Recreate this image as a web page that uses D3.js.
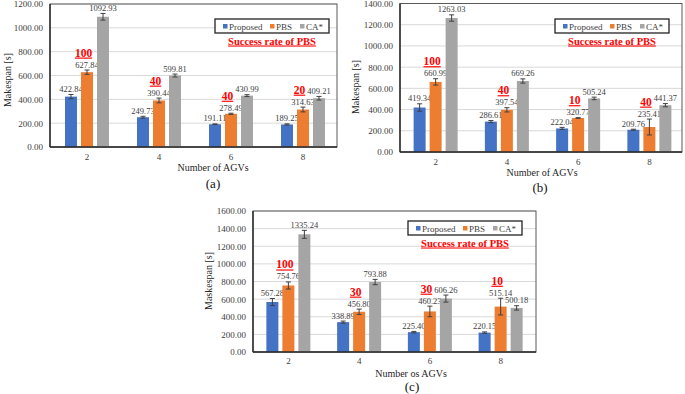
<!DOCTYPE html>
<html><head><meta charset="utf-8">
<script src="https://cdn.jsdelivr.net/npm/d3@7"></script>
<style>html,body{margin:0;padding:0;background:#fff;} svg, svg text{font-family:"Liberation Serif",serif !important;}</style>
</head><body><svg id="chart" width="685" height="394" font-family="Liberation Serif, serif"></svg>
<script>
const categories = ["2", "4", "6", "8"];
const seriesNames = ["Proposed", "PBS", "CA*"];
const seriesColors = ["#4472C4", "#ED7D31", "#A5A5A5"];

// Panel (a)
const aProposed = [422.84, 249.73, 191.11, 189.25];
const aPBS = [627.84, 390.44, 278.49, 314.63];
const aCA = [1092.93, 599.81, 430.99, 409.21];
const aProposedErr = [18, 8, 3, 5];
const aPBSErr = [18, 20, 5, 20];
const aCAErr = [28, 12, 8, 15];
const aSuccess = [100, 40, 40, 20];

// Panel (b)
const bProposed = [419.34, 286.61, 222.04, 209.76];
const bPBS = [660.99, 397.54, 320.77, 235.41];
const bCA = [1263.03, 669.26, 505.24, 441.37];
const bProposedErr = [35, 10, 10, 5];
const bPBSErr = [30, 20, 3, 75];
const bCAErr = [30, 20, 12, 15];
const bSuccess = [100, 40, 10, 40];

// Panel (c)
const cProposed = [567.28, 338.89, 225.40, 220.15];
const cPBS = [754.76, 456.80, 460.23, 515.14];
const cCA = [1335.24, 793.88, 606.26, 500.18];
const cProposedErr = [40, 12, 8, 8];
const cPBSErr = [40, 30, 60, 95];
const cCAErr = [45, 30, 40, 25];
const cSuccess = [100, 30, 30, 10];

const svg = d3.select("#chart");
const fmt = d3.format(".2f");
const SERIF = "Liberation Serif, serif";

function drawPanel(p) {
  const g = svg.append("g").attr("font-family", SERIF);
  const y = d3.scaleLinear().domain([0, p.yMax]).range([p.bottom, p.top]);
  const x0 = d3.scaleBand().domain(categories).range([p.bandL, p.bandR]);
  const x1 = d3.scaleBand().domain(seriesNames).range([-24, 24]).paddingInner(0.25).paddingOuter(0.125);
  const ticks = d3.range(0, p.yMax + 1, 200);

  g.selectAll(".grid").data(ticks.filter(t => t > 0)).join("line")
    .attr("x1", p.left).attr("x2", p.right)
    .attr("y1", d => y(d)).attr("y2", d => y(d))
    .attr("stroke", "#d9d9d9").attr("stroke-width", 1);

  g.append("rect").attr("x", p.left).attr("y", p.top).attr("width", p.right - p.left).attr("height", p.bottom - p.top)
    .attr("fill", "none").attr("stroke", "#595959").attr("stroke-width", 1);

  const series = [p.proposed, p.pbs, p.ca];
  const errs = [p.proposedErr, p.pbsErr, p.caErr];
  const cx = (ci, si) => x0(categories[ci]) + x0.bandwidth() / 2 + x1(seriesNames[si]) + x1.bandwidth() / 2;

  series.forEach((vals, si) => {
    const rows = vals.map((v, ci) => ({ v, e: errs[si][ci], ci }));
    g.selectAll(".bar" + si).data(rows).join("rect")
      .attr("x", d => cx(d.ci, si) - x1.bandwidth() / 2)
      .attr("width", x1.bandwidth())
      .attr("y", d => y(d.v))
      .attr("height", d => y(0) - y(d.v))
      .attr("fill", seriesColors[si]);
    const eg = g.selectAll(".err" + si).data(rows).join("g").attr("stroke", "#404040").attr("stroke-width", 1);
    eg.append("line").attr("x1", d => cx(d.ci, si)).attr("x2", d => cx(d.ci, si))
      .attr("y1", d => y(d.v - d.e)).attr("y2", d => y(d.v + d.e));
    eg.append("line").attr("x1", d => cx(d.ci, si) - 2.5).attr("x2", d => cx(d.ci, si) + 2.5)
      .attr("y1", d => y(d.v + d.e)).attr("y2", d => y(d.v + d.e));
    eg.append("line").attr("x1", d => cx(d.ci, si) - 2.5).attr("x2", d => cx(d.ci, si) + 2.5)
      .attr("y1", d => y(d.v - d.e)).attr("y2", d => y(d.v - d.e));
    g.selectAll(".lab" + si).data(rows).join("text")
      .attr("x", d => cx(d.ci, si)).attr("y", d => y(d.v + d.e) - 2.5)
      .attr("text-anchor", "middle").attr("font-size", 8.5).attr("fill", "#404040")
      .text(d => fmt(d.v));
  });

  g.selectAll(".succ").data(p.success).join("text")
    .attr("x", (d, ci) => cx(ci, 1) - 3.5)
    .attr("y", (d, ci) => y(p.pbs[ci] + p.pbsErr[ci]) - 13.5)
    .attr("text-anchor", "middle").attr("font-size", 11.5).attr("font-weight", "bold")
    .attr("fill", "#FF0000").attr("text-decoration", "underline")
    .text(d => d);

  const ya = g.append("g").attr("transform", `translate(${p.left},0)`)
    .call(d3.axisLeft(y).tickValues(ticks).tickFormat(fmt).tickSize(0).tickPadding(p.left - p.tickRight));
  ya.attr("font-family", SERIF);
  ya.select(".domain").remove();
  ya.selectAll("text").attr("font-size", 9).attr("fill", "#404040");

  const xa = g.append("g").attr("transform", `translate(0,${p.bottom})`)
    .call(d3.axisBottom(x0).tickSize(0).tickPadding(p.catPad));
  xa.attr("font-family", SERIF);
  xa.select(".domain").remove();
  xa.selectAll("text").attr("font-size", 9).attr("fill", "#404040");

  g.append("line").attr("x1", p.left).attr("x2", p.left).attr("y1", p.top).attr("y2", p.bottom)
    .attr("stroke", "#262626").attr("stroke-width", 1.4);
  g.append("line").attr("x1", p.left).attr("x2", p.right).attr("y1", p.bottom).attr("y2", p.bottom)
    .attr("stroke", "#262626").attr("stroke-width", 1.4);

  g.append("text").attr("x", p.xTitleX).attr("y", p.xTitleY).attr("text-anchor", "middle")
    .attr("font-size", 10).attr("fill", "#262626").text(p.xTitle);
  g.append("text").attr("transform", `translate(${p.yTitleX},${p.yTitleY}) rotate(-90)`)
    .attr("text-anchor", "middle").attr("font-size", 10).attr("fill", "#262626").text(p.yTitle);
  g.append("text").attr("x", p.capX).attr("y", p.capY).attr("text-anchor", "middle")
    .attr("font-size", 13).attr("fill", "#111").text(p.caption);

  const lg = g.append("g").attr("transform", `translate(${p.legX},${p.legY})`);
  lg.append("rect").attr("width", 114).attr("height", 14).attr("fill", "#fff")
    .attr("stroke", "#222").attr("stroke-width", 1.3);
  const offs = [[8, 14], [55, 61], [85, 91]];
  seriesNames.forEach((s, i) => {
    lg.append("rect").attr("x", offs[i][0]).attr("y", 5).attr("width", 4.5).attr("height", 4.5).attr("fill", seriesColors[i]);
    lg.append("text").attr("x", offs[i][1]).attr("y", 10.5).attr("font-size", 9).attr("fill", "#404040").text(s);
  });
  g.append("text").attr("x", p.legX + 57).attr("y", p.legY + 25.5).attr("text-anchor", "middle")
    .attr("font-size", 10.5).attr("font-weight", "bold").attr("fill", "#FF0000")
    .attr("text-decoration", "underline").text("Success rate of PBS");
}

drawPanel({
  left: 50, right: 337, top: 4, bottom: 147, bandL: 51, bandR: 339, yMax: 1200,
  tickRight: 43, catPad: 7,
  proposed: aProposed, pbs: aPBS, ca: aCA,
  proposedErr: aProposedErr, pbsErr: aPBSErr, caErr: aCAErr, success: aSuccess,
  xTitle: "Number of AGVs", xTitleX: 213, xTitleY: 171,
  yTitle: "Makespan [s]", yTitleX: 11, yTitleY: 80,
  caption: "(a)", capX: 213, capY: 188,
  legX: 215, legY: 19
});

drawPanel({
  left: 400, right: 682, top: 3.5, bottom: 152, bandL: 400, bandR: 685, yMax: 1400,
  tickRight: 393, catPad: 6.3,
  proposed: bProposed, pbs: bPBS, ca: bCA,
  proposedErr: bProposedErr, pbsErr: bPBSErr, caErr: bCAErr, success: bSuccess,
  xTitle: "Number of AGVs", xTitleX: 542, xTitleY: 176,
  yTitle: "Makespan [s]", yTitleX: 359, yTitleY: 87,
  caption: "(b)", capX: 540, capY: 192,
  legX: 555, legY: 19
});

drawPanel({
  left: 253, right: 536, top: 211, bottom: 352, bandL: 253, bandR: 536, yMax: 1600,
  tickRight: 246, catPad: 6,
  proposed: cProposed, pbs: cPBS, ca: cCA,
  proposedErr: cProposedErr, pbsErr: cPBSErr, caErr: cCAErr, success: cSuccess,
  xTitle: "Number os AGVs", xTitleX: 411, xTitleY: 377,
  yTitle: "Maskespan [s]", yTitleX: 212, yTitleY: 281,
  caption: "(c)", capX: 412, capY: 391,
  legX: 408, legY: 221
});
</script>
</body></html>
